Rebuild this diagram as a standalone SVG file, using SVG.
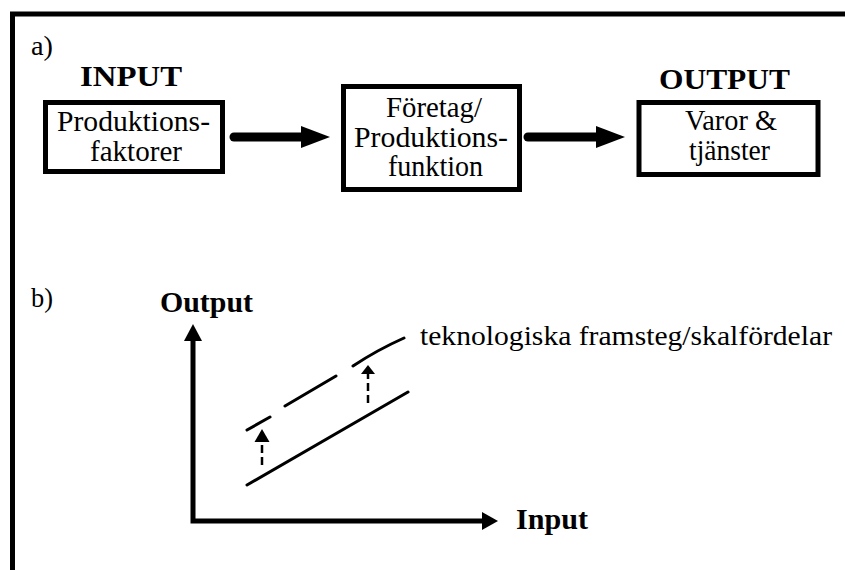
<svg xmlns="http://www.w3.org/2000/svg" width="845" height="570" viewBox="0 0 845 570" font-family="'Liberation Serif', 'DejaVu Serif', serif">
<style>
text{font-family:'Liberation Serif','DejaVu Serif',serif;fill:#000}
.lbl{font-size:28px}
.t{font-size:29px;text-anchor:middle}
.b{font-size:29px;font-weight:bold}
.box{fill:#fff;stroke:#000;stroke-width:5}
.frame{stroke:#000;stroke-width:5;fill:none}
.fat{stroke:#000;stroke-width:9;stroke-linecap:round;fill:none}
.axis{stroke:#000;stroke-width:5;fill:none}
.thin{stroke:#000;stroke-width:3;fill:none;stroke-linecap:round}
.dsh{stroke:#000;stroke-width:2.5;fill:none;stroke-dasharray:8 4}
</style>
<rect width="845" height="570" fill="#fff"/>
<path class="frame" d="M12.5 570 V14 H845"/>
<text class="lbl" x="31" y="55" textLength="22" lengthAdjust="spacingAndGlyphs">a)</text>
<text class="b" x="80" y="86" textLength="102" lengthAdjust="spacingAndGlyphs">INPUT</text>
<text class="b" x="659" y="89" textLength="131" lengthAdjust="spacingAndGlyphs">OUTPUT</text>
<g id="n1">
<rect class="box" x="45.5" y="102.5" width="177" height="69"/>
<text class="t" x="133.5" y="131" textLength="153" lengthAdjust="spacingAndGlyphs">Produktions-</text>
<text class="t" x="136" y="161" textLength="92" lengthAdjust="spacingAndGlyphs">faktorer</text>
</g>
<g id="n2">
<rect class="box" x="343.5" y="86.5" width="176" height="103"/>
<text class="t" x="434" y="117" textLength="96" lengthAdjust="spacingAndGlyphs">Företag/</text>
<text class="t" x="431" y="147" textLength="154" lengthAdjust="spacingAndGlyphs">Produktions-</text>
<text class="t" x="435.5" y="176" textLength="95" lengthAdjust="spacingAndGlyphs">funktion</text>
</g>
<g id="n3">
<rect class="box" x="639" y="102.5" width="179" height="72"/>
<text class="t" x="731" y="130" textLength="92" lengthAdjust="spacingAndGlyphs">Varor &amp;</text>
<text class="t" x="729.5" y="160" textLength="81" lengthAdjust="spacingAndGlyphs">tjänster</text>
</g>
<g id="connectors">
<line class="fat" x1="234" y1="137" x2="305" y2="137"/>
<polygon points="301,126 330,137 301,148"/>
<line class="fat" x1="528" y1="137" x2="600" y2="137"/>
<polygon points="596,126 625,137 596,148"/>
</g>
<text class="lbl" x="31" y="307" textLength="22" lengthAdjust="spacingAndGlyphs">b)</text>
<text class="b" x="160" y="312" textLength="93" lengthAdjust="spacingAndGlyphs">Output</text>
<text class="b" x="516" y="529" textLength="72" lengthAdjust="spacingAndGlyphs">Input</text>
<g id="chart">
<path class="axis" d="M193 338 V521 H485"/>
<polygon points="184,341 193,324 202,341"/>
<polygon points="482,512 498,521 482,530"/>
<line class="thin" x1="247" y1="485" x2="408" y2="392"/>
<path class="thin" d="M247 430 L270 417 M285 406 L336 376 M353 366 Q377 350 404 338"/>
<line class="dsh" x1="262" y1="465" x2="262" y2="440"/>
<polygon points="254.5,442 262,429 269.5,442"/>
<line class="dsh" x1="368" y1="403" x2="368" y2="372"/>
<polygon points="361,374 368,365 375,374"/>
</g>
<text x="420" y="345" font-size="28" textLength="412" lengthAdjust="spacingAndGlyphs">teknologiska framsteg/skalfördelar</text>
</svg>
